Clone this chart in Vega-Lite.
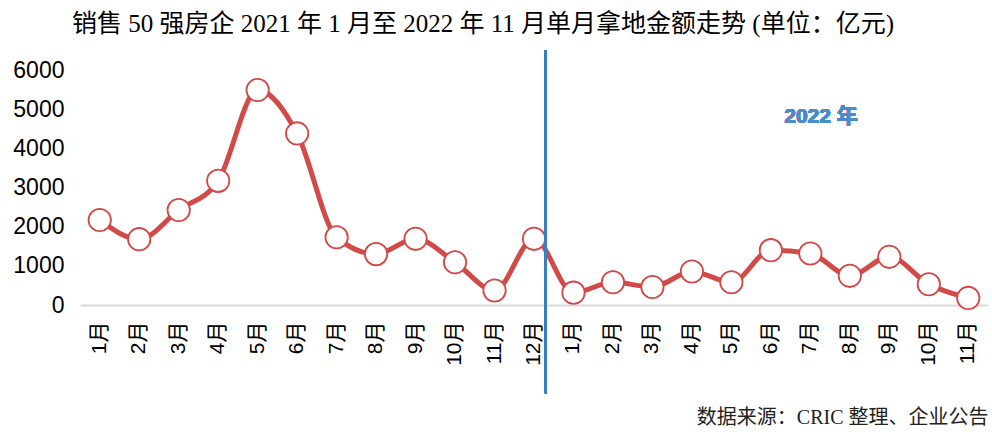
{
  "$schema": "https://vega.github.io/schema/vega-lite/v6.json",
  "width": 908,
  "height": 235,
  "autosize": "none",
  "padding": {"left": 80, "top": 70, "right": 4, "bottom": 127},
  "background": "white",
  "view": {"stroke": null},
  "title": {
    "text": "销售 50 强房企 2021 年 1 月至 2022 年 11 月单月拿地金额走势 (单位：亿元)",
    "font": "Liberation Serif, Noto Sans CJK SC",
    "fontSize": 25,
    "fontWeight": "normal",
    "color": "#000000",
    "anchor": "start",
    "frame": "group",
    "dx": -8,
    "offset": 12
  },
  "data": {
    "values": [
      {"ym": "2021-01", "value": 2170},
      {"ym": "2021-02", "value": 1680},
      {"ym": "2021-03", "value": 2425},
      {"ym": "2021-04", "value": 3170},
      {"ym": "2021-05", "value": 5490},
      {"ym": "2021-06", "value": 4380},
      {"ym": "2021-07", "value": 1730},
      {"ym": "2021-08", "value": 1300},
      {"ym": "2021-09", "value": 1690},
      {"ym": "2021-10", "value": 1090},
      {"ym": "2021-11", "value": 370},
      {"ym": "2021-12", "value": 1690},
      {"ym": "2022-01", "value": 315},
      {"ym": "2022-02", "value": 580},
      {"ym": "2022-03", "value": 460},
      {"ym": "2022-04", "value": 855},
      {"ym": "2022-05", "value": 580},
      {"ym": "2022-06", "value": 1400},
      {"ym": "2022-07", "value": 1315},
      {"ym": "2022-08", "value": 745},
      {"ym": "2022-09", "value": 1230},
      {"ym": "2022-10", "value": 530},
      {"ym": "2022-11", "value": 180}
    ]
  },
  "encoding": {
    "x": {
      "field": "ym",
      "type": "ordinal",
      "sort": null,
      "scale": {"type": "band", "paddingInner": 0, "paddingOuter": 0},
      "axis": {
        "title": "数据来源：CRIC 整理、企业公告",
        "titleFont": "Liberation Serif, Noto Sans CJK SC",
        "titleFontSize": 20,
        "titleFontWeight": "normal",
        "titleColor": "#222222",
        "titleAnchor": "end",
        "titlePadding": 42,
        "titleDx": -5,
        "labelExpr": "toNumber(split(datum.value, '-')[1]) + '月'",
        "labelAngle": -90,
        "labelFont": "Liberation Sans, Noto Sans CJK SC",
        "labelFontSize": 21,
        "labelColor": "#000000",
        "labelPadding": 16,
        "ticks": false,
        "domainColor": "#d9d9d9",
        "domainWidth": 2,
        "grid": false
      }
    },
    "y": {
      "field": "value",
      "type": "quantitative",
      "scale": {"domain": [0, 6000], "nice": false},
      "axis": {
        "title": null,
        "format": "d",
        "values": [0, 1000, 2000, 3000, 4000, 5000, 6000],
        "labelFont": "Liberation Sans",
        "labelFontSize": 23,
        "labelColor": "#000000",
        "labelPadding": 16,
        "ticks": false,
        "domain": false,
        "grid": false
      }
    }
  },
  "layer": [
    {
      "mark": {"type": "line", "color": "#d24a48", "strokeWidth": 5, "interpolate": "monotone"}
    },
    {
      "mark": {"type": "point", "filled": true, "fill": "white", "stroke": "#d24a48", "strokeWidth": 1.8, "size": 500, "opacity": 1}
    },
    {
      "mark": {"type": "rule", "color": "#3a7fc1", "strokeWidth": 2},
      "encoding": {
        "x": {"datum": "2021-12", "type": "ordinal", "bandPosition": 0.8},
        "y": {"datum": 6510, "type": "quantitative"},
        "y2": {"datum": -2250}
      }
    },
    {
      "mark": {"type": "text", "color": "#4a8cca", "font": "Liberation Sans, Noto Sans CJK SC", "fontSize": 21, "fontWeight": "bold", "align": "center", "baseline": "middle"},
      "encoding": {
        "x": {"datum": "2022-07", "type": "ordinal", "bandPosition": 0.77},
        "y": {"datum": 4800, "type": "quantitative"},
        "text": {"value": "2022 年"}
      }
    }
  ]
}
